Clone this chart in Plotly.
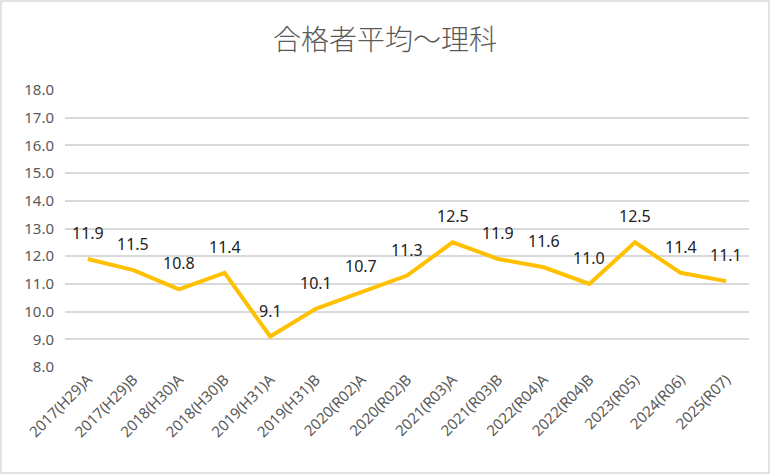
import plotly.graph_objects as go

categories = ["2017(H29)A", "2017(H29)B", "2018(H30)A", "2018(H30)B", "2019(H31)A",
              "2019(H31)B", "2020(R02)A", "2020(R02)B", "2021(R03)A", "2021(R03)B",
              "2022(R04)A", "2022(R04)B", "2023(R05)", "2024(R06)", "2025(R07)"]
values = [11.9, 11.5, 10.8, 11.4, 9.1, 10.1, 10.7, 11.3, 12.5, 11.9, 11.6, 11.0, 12.5, 11.4, 11.1]
title_text = "合格者平均～理科"

W, H = 770, 474
ml, mr, mt, mb = 65, 21, 90, 107

fig = go.Figure()
fig.add_trace(go.Scatter(
    x=categories, y=values, mode="lines",
    line=dict(color="#FFC000", width=4),
    hoverinfo="skip",
))

for c, v in zip(categories, values):
    fig.add_annotation(x=c, y=v, text=f"{v:.1f}", showarrow=False, yshift=26,
                       font=dict(family="Noto Sans, sans-serif", size=16, color="#222222"))

pw = W - ml - mr
ph = H - mt - mb
def px2x(p): return (p - ml) / pw
def py2y(p): return (H - mb - p) / ph

fig.update_layout(
    width=W, height=H,
    margin=dict(l=ml, r=mr, t=mt, b=mb),
    paper_bgcolor="white", plot_bgcolor="white",
    showlegend=False,
    title=dict(text=title_text, x=0.5, xref="container", xanchor="center",
               y=1 - 40 / H, yref="container", yanchor="middle",
               font=dict(family="Noto Sans CJK JP", size=28, color="#595959", weight=300)),
    xaxis=dict(type="category", range=[-0.5, len(categories) - 0.5], showgrid=False,
               showline=False, ticks="", tickangle=-45, automargin=False,
               tickfont=dict(family="Noto Sans, sans-serif", size=15, color="#595959")),
    yaxis=dict(range=[8, 18], dtick=1, tickformat=".1f", showgrid=True, gridcolor="#D9D9D9",
               gridwidth=1.5, zeroline=False, showline=False, ticks="", ticklabelstandoff=10,
               automargin=False,
               tickfont=dict(family="Noto Sans, sans-serif", size=15, color="#595959")),
    shapes=[dict(type="rect", xref="paper", yref="paper",
                 x0=px2x(1), x1=px2x(W - 1), y0=py2y(H - 1), y1=py2y(1),
                 line=dict(color="#D9D9D9", width=1.5), fillcolor="rgba(0,0,0,0)", layer="below")],
)

fig.write_html("out.html", config={"displayModeBar": False},
               post_script="document.body.style.margin='0px';document.body.style.overflow='hidden';")
